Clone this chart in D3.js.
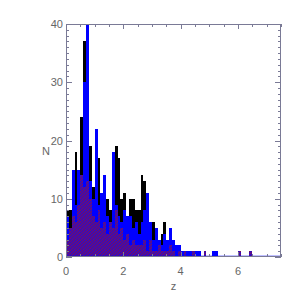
<!doctype html>
<html lang="en">
<head>
    <title></title>
    <script src="https://d3js.org/d3.v7.min.js"></script>
    <style type="text/css">
        body { margin: 0; background: #fff; }
        text { font-family: "Liberation Sans", Arial, sans-serif; font-size: 11px; fill: #666; }
    </style>
</head>

<body>
</body>

<script type="text/javascript">

    // bin starts (z), width 0.1
    var binStart = [0.0,0.1,0.2,0.3,0.4,0.5,0.6,0.7,0.8,0.9,
                    1.0,1.1,1.2,1.3,1.4,1.5,1.6,1.7,1.8,1.9,
                    2.0,2.1,2.2,2.3,2.4,2.5,2.6,2.7,2.8,2.9,
                    3.0,3.1,3.2,3.3,3.4,3.5,3.6,3.7,3.8,3.9,
                    4.0,4.1,4.2,4.3,4.4,4.5,4.6,4.7,4.8,4.9,
                    5.0,5.1,5.2,5.3,5.4,5.5,5.6,5.7,5.8,5.9,
                    6.0,6.1,6.2,6.3,6.4];
    var binWidth = 0.1;

    var nBlack  = [8,8,11,18,12,24,37,21,19,12,
                   18,17,9,11,10,8,12,19,17,10,
                   11,5,10,10,8,8,14,13,5,4,
                   6,2,3,4,6,3,2,3,1,2,
                   1,0,1,0,1,0,1,0,1,0,
                   0,0,0,0,0,0,0,0,0,0,
                   1,0,0,0,1];
    var nBlue   = [7,5,15,9,15,11,30,42,13,10,
                   22,9,11,14,7,6,18,9,7,6,
                   8,7,7,5,6,4,6,8,11,6,
                   3,5,3,2,4,3,5,3,2,2,
                   1,1,1,1,0,1,1,0,0,0,
                   0,1,1,0,0,0,0,0,0,0,
                   0,0,0,0,0];
    var nPurple = [3,5,7,6,9,14,12,13,10,7,
                   6,8,5,6,4,6,5,8,4,5,
                   3,4,2,3,2,2,2,3,1,3,
                   1,1,2,1,1,1,2,1,0,1,
                   0,1,0,0,1,0,0,0,1,0,
                   0,0,0,0,0,0,0,0,0,0,
                   1,0,0,0,1];

    var xTicks = [0,2,4,6];
    var yTicks = [0,10,20,30,40];

    var W = 301, H = 301;
    var x0 = 66, x1 = 281, y0 = 257, y1 = 24;
    var axisColor = "#7a7a96";

    var xScale = d3.scaleLinear().domain([0,7.5]).range([x0,x1]);
    var yScale = d3.scaleLinear().domain([0,40]).range([y0,y1]);

    var svg = d3.select("body")
                .append("svg")
                .attr("width", W)
                .attr("height", H);

    var defs = svg.append("defs");
    defs.append("clipPath").attr("id","plot")
        .append("rect")
        .attr("x", x0).attr("y", y1)
        .attr("width", x1-x0).attr("height", y0-y1);

    var pat = defs.append("pattern")
                  .attr("id","hatch")
                  .attr("patternUnits","userSpaceOnUse")
                  .attr("width",3).attr("height",3);
    pat.append("rect").attr("width",3).attr("height",3).attr("fill","#3a0cb4");
    pat.append("path").attr("d","M0,3 L3,0 M-1,1 L1,-1 M2,4 L4,2")
       .attr("stroke","#8a1048").attr("stroke-width",0.8);

    var g = svg.append("g").attr("clip-path","url(#plot)");

    function drawHist(vals, fill) {
        g.append("g")
         .selectAll("rect")
         .data(vals)
         .enter()
         .append("rect")
         .attr("x", (d,i)=>xScale(binStart[i]))
         .attr("y", (d)=>yScale(d))
         .attr("width", (d,i)=>xScale(binStart[i]+binWidth)-xScale(binStart[i]))
         .attr("height", (d)=>y0-yScale(d))
         .attr("shape-rendering","crispEdges")
         .style("fill", fill);
    }

    drawHist(nBlack, "#000");
    drawHist(nBlue, "#0000ff");
    drawHist(nPurple, "url(#hatch)");

    // blue histogram baseline
    g.append("line")
     .attr("x1", xScale(0)).attr("x2", x1)
     .attr("y1", y0-0.5).attr("y2", y0-0.5)
     .attr("stroke","#0000ff").attr("stroke-width",1.5);

    // frame
    svg.append("rect")
       .attr("x", x0+0.5).attr("y", y1+0.5)
       .attr("width", x1-x0-1).attr("height", y0-y1-1)
       .attr("fill","none").attr("stroke",axisColor);

    // ticks, inward on all sides
    var ticks = svg.append("g").attr("stroke",axisColor).attr("shape-rendering","crispEdges");
    d3.range(0, 7.5001, 0.5).forEach(function(v) {
        var major = xTicks.indexOf(v) >= 0;
        var len = major ? 5 : 3;
        var px = Math.round(xScale(v)) + 0.5;
        ticks.append("line").attr("x1",px).attr("x2",px).attr("y1",y0).attr("y2",y0-len);
        ticks.append("line").attr("x1",px).attr("x2",px).attr("y1",y1).attr("y2",y1+len);
    });
    d3.range(0, 40.001, 1).forEach(function(v) {
        var major = yTicks.indexOf(v) >= 0;
        var len = major ? 6 : 3;
        var py = Math.round(yScale(v)) + 0.5;
        ticks.append("line").attr("x1",x0).attr("x2",x0+len).attr("y1",py).attr("y2",py);
        ticks.append("line").attr("x1",x1).attr("x2",x1-len).attr("y1",py).attr("y2",py);
    });

    svg.selectAll(".xl").data(xTicks).enter()
       .append("text").attr("class","xl")
       .attr("x",(d)=>xScale(d)).attr("y",275)
       .attr("text-anchor","middle")
       .text((d)=>d);

    svg.selectAll(".yl").data(yTicks).enter()
       .append("text").attr("class","yl")
       .attr("x",63).attr("y",(d)=>yScale(d)+4)
       .attr("text-anchor","end")
       .text((d)=>d);

    svg.append("text")
       .attr("x",(x0+x1)/2).attr("y",290)
       .attr("text-anchor","middle")
       .text("z");

    svg.append("text")
       .attr("x",46).attr("y",155)
       .attr("text-anchor","middle")
       .text("N");

</script>

</html>
